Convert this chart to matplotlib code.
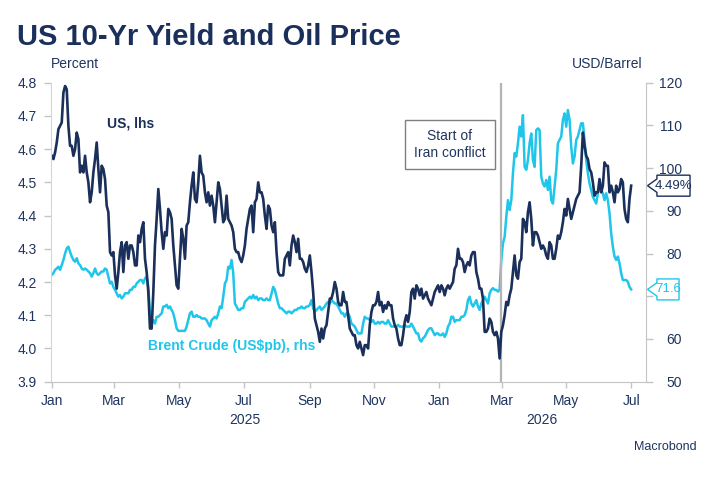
import numpy as np
import pandas as pd
import matplotlib
matplotlib.use("Agg")
import matplotlib.pyplot as plt
import matplotlib.dates as mdates
import matplotlib.transforms as mtransforms
from matplotlib.patches import Polygon

plt.rcParams['font.family'] = ['Liberation Sans', 'DejaVu Sans']

NAVY = '#1a2f5a'
CYAN = '#1fc6ea'
TXT = '#1f3560'
GREY = '#c4c4c4'

start_date = '2025-01-01'
end_date = '2026-07-01'

us_10y = [
  4.58, 4.57, 4.59, 4.62, 4.66, 4.67, 4.68, 4.77, 4.79, 4.78, 4.67, 4.61, 4.61, 4.58, 4.60, 4.65,
  4.63, 4.53, 4.55, 4.53, 4.58, 4.53, 4.50, 4.44, 4.47, 4.53, 4.57, 4.62, 4.54, 4.47, 4.55, 4.54,
  4.51, 4.43, 4.41, 4.29, 4.28, 4.29, 4.22, 4.18, 4.23, 4.29, 4.32, 4.23, 4.31, 4.32, 4.27, 4.31,
  4.31, 4.29, 4.25, 4.25, 4.34, 4.32, 4.36, 4.38, 4.27, 4.23, 4.17, 4.06, 4.06, 4.17, 4.31, 4.39,
  4.48, 4.42, 4.35, 4.30, 4.35, 4.34, 4.42, 4.41, 4.39, 4.31, 4.25, 4.19, 4.18, 4.27, 4.36, 4.33,
  4.27, 4.37, 4.38, 4.44, 4.49, 4.53, 4.45, 4.44, 4.50, 4.58, 4.53, 4.52, 4.47, 4.44, 4.47, 4.43,
  4.46, 4.43, 4.38, 4.44, 4.50, 4.48, 4.43, 4.38, 4.39, 4.46, 4.39, 4.38, 4.37, 4.35, 4.30, 4.29,
  4.29, 4.27, 4.26, 4.28, 4.31, 4.36, 4.39, 4.42, 4.43, 4.35, 4.44, 4.45, 4.50, 4.47, 4.47, 4.45,
  4.40, 4.36, 4.43, 4.42, 4.37, 4.35, 4.38, 4.29, 4.23, 4.22, 4.22, 4.22, 4.27, 4.28, 4.29, 4.25,
  4.31, 4.34, 4.32, 4.29, 4.33, 4.27, 4.27, 4.26, 4.24, 4.23, 4.25, 4.28, 4.23, 4.17, 4.09, 4.07,
  4.05, 4.02, 4.06, 4.03, 4.06, 4.07, 4.11, 4.15, 4.15, 4.17, 4.20, 4.18, 4.14, 4.13, 4.13, 4.17,
  4.14, 4.14, 4.10, 4.06, 4.05, 4.04, 4.04, 4.01, 4.00, 4.02,
  4.00, 3.98, 4.01, 4.01, 4.00, 4.07, 4.11, 4.13, 4.13, 4.14, 4.17, 4.13, 4.14, 4.11, 4.13, 4.12,
  4.14, 4.13, 4.13, 4.09, 4.07, 4.06, 4.03, 4.01, 4.01, 4.04, 4.08, 4.10, 4.08, 4.11, 4.17, 4.18,
  4.15, 4.19, 4.18, 4.16, 4.18, 4.15, 4.16, 4.17, 4.15, 4.14, 4.13, 4.15, 4.17, 4.18, 4.19, 4.17,
  4.19, 4.18, 4.16, 4.18, 4.19, 4.18, 4.19, 4.20, 4.24, 4.25, 4.30, 4.27, 4.27, 4.26, 4.23, 4.25,
  4.26, 4.25, 4.28, 4.29, 4.29, 4.23, 4.21, 4.18, 4.18, 4.15, 4.05, 4.05, 4.06, 4.09, 4.08, 4.05,
  4.04, 4.05, 4.03, 3.97, 4.05, 4.07, 4.10, 4.14, 4.13, 4.16, 4.18, 4.23, 4.28, 4.22, 4.21, 4.26,
  4.27, 4.39, 4.38, 4.35, 4.41, 4.44, 4.39, 4.31, 4.35, 4.35, 4.34, 4.32, 4.30, 4.31, 4.30, 4.28,
  4.27, 4.32, 4.31, 4.27, 4.27, 4.30, 4.34, 4.33, 4.35, 4.38, 4.42, 4.40, 4.45, 4.42, 4.39, 4.41,
  4.43, 4.45, 4.46, 4.47, 4.55, 4.65, 4.61, 4.58, 4.57, 4.54, 4.53, 4.50, 4.46, 4.47, 4.47, 4.51,
  4.47, 4.49, 4.56, 4.55, 4.55, 4.47, 4.49, 4.47, 4.44, 4.49, 4.47, 4.48, 4.51, 4.50, 4.42, 4.39,
  4.38, 4.45, 4.49,
]

brent = [
  75.0, 75.4, 76.2, 76.5, 76.9, 76.2, 77.3, 78.5, 80.0, 81.2, 81.6, 80.4, 79.3, 78.5, 78.1, 78.9,
  77.7, 77.3, 76.5, 76.2, 76.5, 76.2, 75.8, 75.4, 74.6, 75.4, 76.5, 75.4, 75.0, 75.4, 75.8, 75.8,
  76.5, 76.2, 74.6, 73.0, 73.4, 72.2, 71.5, 70.7, 69.9, 70.3, 69.5, 69.9, 70.7, 70.7, 70.7, 71.5,
  71.5, 72.2, 72.2, 73.0, 73.4, 73.8, 73.8, 73.0, 74.2, 74.6, 72.2, 66.0, 63.6, 64.4, 63.6, 65.2,
  65.2, 65.6, 66.0, 67.6, 67.6, 68.0, 67.2, 67.6, 66.8, 66.0, 64.4, 62.5, 61.9, 61.9, 61.9, 61.9,
  61.9, 62.9, 64.4, 66.0, 66.4, 65.2, 65.2, 65.6, 65.2, 65.2, 64.8, 64.8, 64.8, 64.4, 63.6, 62.9,
  64.4, 64.8, 65.2, 64.8, 66.0, 67.6, 67.2, 69.9, 73.0, 73.8, 76.9, 76.5, 78.5, 75.4, 68.3, 67.6,
  66.8, 66.8, 67.2, 67.2, 68.7, 69.1, 69.5, 69.9, 69.5, 70.3, 69.5, 69.9, 69.1, 69.5, 69.5, 69.1,
  69.1, 69.5, 69.1, 69.1, 70.7, 72.2, 71.5, 69.9, 68.3, 67.2, 67.2, 66.8, 66.4, 66.0, 66.4, 66.4,
  66.0, 66.4, 66.8, 66.8, 67.2, 67.2, 67.6, 67.2, 67.2, 67.6, 67.6, 68.0, 69.1, 67.2, 66.4, 66.8,
  67.2, 67.6, 66.8, 67.2, 67.6, 68.3, 68.7, 68.3, 69.1, 68.7, 68.3, 68.3, 67.6, 66.8, 66.0, 66.0,
  65.2, 66.0, 66.0, 65.2, 63.6, 63.3, 62.9, 62.1, 61.3, 61.3,
  61.3, 63.6, 65.2, 64.8, 64.8, 64.4, 64.0, 64.4, 63.6, 63.6, 64.0, 63.6, 64.0, 64.0, 63.6, 63.6,
  64.4, 63.6, 62.9, 62.9, 62.9, 62.9, 63.3, 62.9, 62.9, 62.9, 63.3, 62.9, 62.9, 62.9, 63.6, 62.9,
  62.1, 61.3, 61.3, 59.8, 59.4, 60.2, 60.5, 61.3, 62.1, 62.5, 62.5, 61.7, 60.9, 61.3, 61.3, 60.9,
  60.9, 61.3, 60.5, 61.3, 62.9, 63.6, 65.2, 65.2, 64.0, 64.4, 64.4, 64.4, 65.2, 65.2, 65.6, 66.8,
  69.1, 69.9, 68.3, 67.6, 68.3, 69.1, 67.6, 66.8, 68.3, 69.1, 69.9, 69.1, 68.3, 70.7, 71.5, 71.9,
  71.5, 71.5, 71.1, 71.5, 78.5, 82.4, 83.9, 88.6, 92.5, 90.2, 92.5, 98.8, 103.5, 102.7, 105.8, 109.7,
  107.4, 112.4, 100.3, 99.6, 101.9, 105.8, 108.1, 101.9, 100.3, 108.9, 109.3, 108.9, 98.0, 96.4, 95.7, 97.2,
  94.9, 98.0, 92.5, 91.7, 95.7, 99.6, 105.8, 106.6, 107.4, 111.3, 112.8, 109.7, 113.6, 111.3, 105.0, 101.1,
  102.7, 106.6, 107.4, 108.9, 110.5, 110.5, 106.6, 101.9, 98.8, 96.4, 94.9, 93.3, 92.5, 91.7, 94.1, 95.7,
  94.9, 94.1, 92.5, 94.1, 92.5, 89.4, 84.7, 81.6, 79.3, 78.5, 79.3, 77.7, 75.4, 73.8, 73.8, 73.8,
  73.4, 72.2, 71.6,
]

conflict_date = '2026-02-28'
us_last_label = '4.49%'
brent_last_label = '71.6'
lhs_ticks = [3.9, 4.0, 4.1, 4.2, 4.3, 4.4, 4.5, 4.6, 4.7, 4.8]
rhs_ticks = [50, 60, 70, 80, 90, 100, 110, 120]
# the 70 label sits under the Brent end-value callout in the original
rhs_labels = ['50', '60', '', '80', '90', '100', '110', '120']

dates = pd.date_range(start_date, end_date, periods=len(us_10y))

fig = plt.figure(figsize=(7.19, 4.78), dpi=100)
ax = fig.add_axes([0.0705, 0.2015, 0.828, 0.6255])
ax2 = ax.twinx()
ax.set_zorder(ax2.get_zorder() + 1)
ax.patch.set_visible(False)

ax2.plot(dates, brent, color=CYAN, lw=1.8, solid_joinstyle='round')
ax.plot(dates, us_10y, color=NAVY, lw=1.9, solid_joinstyle='round')
ax.axvline(pd.Timestamp(conflict_date), color='#b4b4b4', lw=1.6, zorder=0)

ax.set_xlim(pd.Timestamp('2024-12-31'), pd.Timestamp('2026-07-15'))
ax.set_ylim(3.9, 4.8)
ax2.set_ylim(50, 120)
ax.set_yticks(lhs_ticks)
ax.set_yticklabels(['%.1f' % t for t in lhs_ticks])
ax2.set_yticks(rhs_ticks)
ax2.set_yticklabels(rhs_labels)

ax.xaxis.set_major_locator(mdates.MonthLocator(bymonth=[1, 3, 5, 7, 9, 11]))
ax.xaxis.set_major_formatter(mdates.DateFormatter('%b'))

for a in (ax, ax2):
  for s in a.spines.values():
    s.set_visible(False)
ax.spines['left'].set_visible(True)
ax.spines['left'].set_color('#d6d6d6')
ax.spines['bottom'].set_visible(True)
ax.spines['bottom'].set_color(GREY)
ax2.spines['right'].set_visible(True)
ax2.spines['right'].set_color(GREY)

ax.tick_params(axis='y', direction='out', length=5, width=1, color=GREY,
               labelsize=10, labelcolor=TXT, pad=5)
ax.tick_params(axis='x', direction='out', length=4, width=1, color=GREY,
               labelsize=10, labelcolor=TXT, pad=5)
ax2.tick_params(axis='y', direction='out', length=5, width=1, color=GREY,
                labelsize=10, labelcolor=TXT, pad=21)
for lab in ax2.get_yticklabels():
  lab.set_horizontalalignment('right')

# year labels centred on each year's span
blend = mtransforms.blended_transform_factory(ax.transData, ax.transAxes)
ax.text(pd.Timestamp('2025-07-02'), -0.128, '2025', transform=blend, ha='center', va='center',
        fontsize=10, color=TXT)
ax.text(pd.Timestamp('2026-04-08'), -0.128, '2026', transform=blend, ha='center', va='center',
        fontsize=10, color=TXT)

fig.text(0.0236, 0.906, 'US 10-Yr Yield and Oil Price', fontsize=21, fontweight='bold',
         color=NAVY, ha='left', va='baseline')
ax.text(0.0, 1.062, 'Percent', transform=ax.transAxes, ha='left', va='center', fontsize=10, color=TXT)
ax.text(0.9935, 1.062, 'USD/Barrel', transform=ax.transAxes, ha='right', va='center', fontsize=10, color=TXT)
fig.text(0.969, 0.065, 'Macrobond', ha='right', va='center', fontsize=9, color=TXT)

ax.text(0.0946, 0.862, 'US, lhs', transform=ax.transAxes, ha='left', va='center',
        fontsize=10, fontweight='bold', color=NAVY)
ax.text(0.1634, 0.1204, 'Brent Crude (US$pb), rhs', transform=ax.transAxes, ha='left', va='center',
        fontsize=10, fontweight='bold', color=CYAN)

ax.text(0.6708, 0.7937, 'Start of\nIran conflict', transform=ax.transAxes, ha='center', va='center',
        fontsize=10, color=TXT, linespacing=1.25,
        bbox=dict(boxstyle='square,pad=0.65', fc='white', ec='#7f7f7f', lw=1))

fig.canvas.draw()

def callout(axis, value, label, color, width):
  tip_x = ax.transAxes.transform((1, 0))[0] + 1.5
  tip_y = axis.transData.transform((0, value))[1]
  h = 10.5
  n = 6.7
  g = 9.4
  pts = [(0, 0), (g, n), (g, h), (width, h), (width, -h), (g, -h), (g, -n)]
  pts = [(tip_x + px, tip_y + py) for px, py in pts]
  poly = Polygon(pts, closed=True, fc='white', ec=color, lw=1, transform=None,
                 clip_on=False, zorder=10)
  fig.add_artist(poly)
  fig.text((tip_x + (g + width) / 2) / fig.bbox.width, tip_y / fig.bbox.height, label,
           ha='center', va='center', fontsize=9.5, color=color, zorder=11)

callout(ax, us_10y[-1], us_last_label, NAVY, 42.5)
callout(ax2, brent[-1], brent_last_label, CYAN, 31.5)

fig.savefig('out.png', dpi=100)
